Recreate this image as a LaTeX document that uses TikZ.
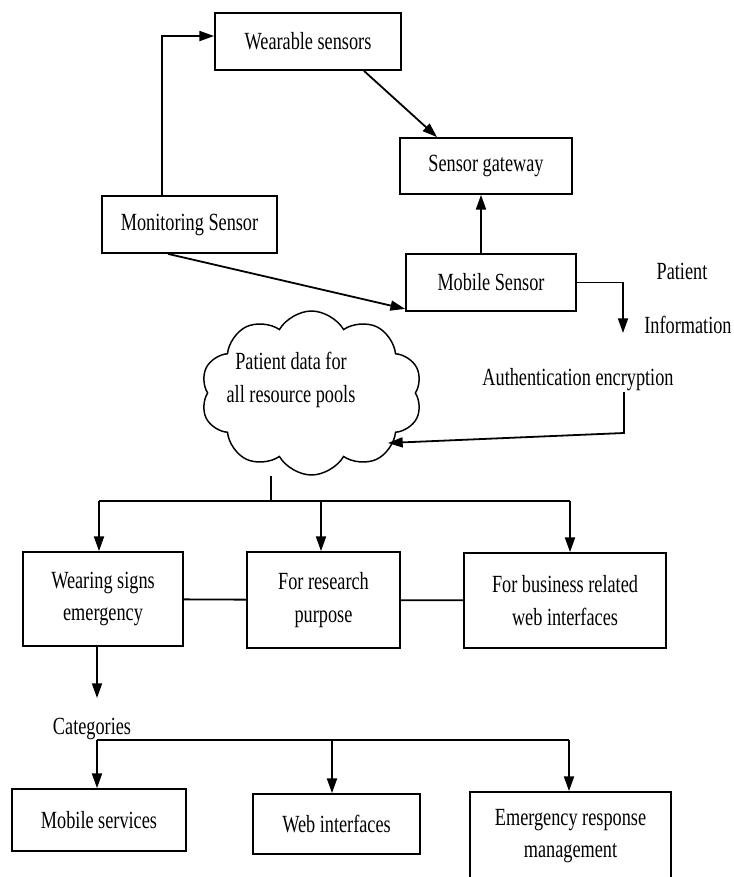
\documentclass[tikz,border=0pt]{standalone}
\usepackage{fontspec}
\setmainfont{Liberation Serif}[FakeStretch=0.74]
\usetikzlibrary{arrows.meta,shapes.symbols}

\begin{document}
\begin{tikzpicture}[x = 0.75pt, y = -0.75pt, line width = 1.35pt,
                        >= {Triangle[length = 11pt, width = 7.5pt]},
                        box/.style = {rectangle, draw, align = center, inner sep = 0pt, font = \fontsize{18.5}{24.5}\selectfont},
                        txt/.style = {align = center, inner sep = 0pt, font = \fontsize{18.5}{24.5}\selectfont},
                        puff/.style = {cloud, draw, line width = 1.1pt, cloud puffs = 10, cloud puff arc = 120, minimum width = 166pt, minimum height = 123pt}]
      \useasboundingbox (0, 0) rectangle (734, 877);
      \clip (0, 0) rectangle (734, 877);
      % sensors
      \node [box, minimum width = 139.5pt, minimum height = 42.75pt] (w1) at (308, 41.5){Wearable sensors};
      \node [box, minimum width = 129pt, minimum height = 42pt] (g1) at (486, 166){Sensor gateway};
      \node [box, minimum width = 131.25pt, minimum height = 42.75pt] (m1) at (189.5, 224.5){Monitoring Sensor};
      \node [box, minimum width = 127.5pt, minimum height = 42.75pt] (m2) at (491, 282.5){Mobile Sensor};
      \node [txt] (p1) at (682, 271){Patient};
      \node [txt] (p2) at (688, 325){Information};
      \node [txt] (a1) at (578, 380){Authentication encryption};
      % cloud
      \node [puff] (c1) at (311.5, 393){};
      \node [txt] (c2) at (291, 380){Patient data for\\all resource pools};
      % uses
      \node [box, minimum width = 120pt, minimum height = 70.5pt] (u1) at (103, 599){Wearing signs\\emergency};
      \node [box, minimum width = 114.75pt, minimum height = 72pt] (u2) at (323.5, 600){For research\\purpose};
      \node [box, minimum width = 151.5pt, minimum height = 71.25pt] (u3) at (565, 600.5){For business related\\web interfaces};
      \node [txt] (k0) at (92, 729){Categories};
      \node [box, minimum width = 130.5pt, minimum height = 46.5pt] (k1) at (99, 820){Mobile services};
      \node [box, minimum width = 125.25pt, minimum height = 45pt] (k2) at (336.5, 824){Web interfaces};
      \node [box, minimum width = 150.75pt, minimum height = 66pt] (k3) at (570.5, 836){Emergency response\\management};
      % free ends and bus points
      \coordinate (pi) at (623, 333);
      \coordinate (ac) at (624, 433);
      \coordinate (ai) at (388, 443);
      \coordinate (b0) at (271, 501);
      \coordinate (b1) at (99, 501);
      \coordinate (b2) at (321, 501);
      \coordinate (b3) at (570, 501);
      \coordinate (e1) at (97, 698);
      \coordinate (d1) at (97, 740);
      \coordinate (d2) at (332, 740);
      \coordinate (d3) at (569, 740);
      % connectors
      \draw [->] ([xshift = -20.6pt]m1.north) |- ([yshift = 4.1pt]w1.west);
      \draw [->] ([xshift = 42pt]w1.south) -- ([xshift = -36.75pt]g1.north);
      \draw [->] ([xshift = -16.1pt]m1.south) -- ([yshift = 2.25pt]m2.south west);
      \draw [->] ([xshift = -7.5pt]m2.north) -- ([xshift = -3.75pt]g1.south);
      \draw [->] (m2.east) -| (pi);
      \draw [->] (a1.south -| ac) -- (ac) -- (ai);
      \draw (c1.south -| b0) -- (b0);
      \draw (b1) -- (b3);
      \draw [->] (b1) -- (b1 |- u1.north);
      \draw [->] (b2) -- (b2 |- u2.north);
      \draw [->] (b3) -- (b3 |- u3.north);
      \draw (u1) -- (u2) -- (u3);
      \draw [->] (u1.south -| e1) -- (e1);
      \draw (d1) -- (d3);
      \draw [->] (d1) -- (d1 |- k1.north);
      \draw [->] (d2) -- (d2 |- k2.north);
      \draw [->] (d3) -- (d3 |- k3.north);
    \end{tikzpicture}
\end{document}
